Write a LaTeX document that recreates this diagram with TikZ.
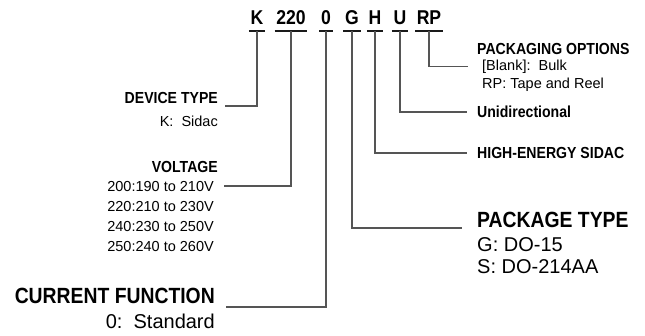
\documentclass[tikz,border=0pt]{standalone}
\usepackage{fontspec}
\setmainfont{Liberation Sans}[BoldFeatures={FakeStretch=0.88}]
\usetikzlibrary{positioning,calc}
\definecolor{ink}{HTML}{1A1A1A}
\definecolor{lead}{HTML}{555555}

\begin{document}
\begin{tikzpicture}[x=1pt, y=-1pt,
  code/.style={font=\fontsize{20}{20}\selectfont\bfseries, inner xsep=1.5pt, inner ysep=0pt, anchor=base},
  head/.style={font=\fontsize{16}{16}\selectfont\bfseries, inner sep=0pt},
  bighead/.style={font=\fontsize{22}{22}\selectfont\bfseries, inner sep=0pt},
  txt/.style={font=\fontsize{14.5}{14.5}\selectfont, inner sep=0pt},
  bigtxt/.style={font=\fontsize{20}{20}\selectfont, inner sep=0pt},
  uline/.style={draw=ink, line width=1.6pt},
  ld/.style={draw=lead, line width=1.3pt}]
\useasboundingbox (0,0) rectangle (645,335);
% part number
\node[code] (k) at (257,24) {K};
\node[code] (v) at (291,24) {220};
\node[code] (c) at (326,24) {0};
\node[code] (g) at (352,24) {G};
\node[code] (h) at (375,24) {H};
\node[code] (u) at (400,24) {U};
\node[code] (rp) at (429,24) {RP};
\foreach \n in {k,v,c,g,h,u,rp}
  \draw[uline] ($(\n.base west)+(0,7)$) -- ($(\n.base east)+(0,7)$);
% left side
\node[head, anchor=base east] (devt) at (218,103) {DEVICE TYPE};
\node[txt, anchor=base east] (devk) at (218,126) {K:\ \ Sidac};
\node[head, anchor=base east] (volt) at (218,172) {VOLTAGE};
\node[txt, anchor=base east] (v1) at (214,191) {200:190 to 210V};
\node[txt, below=9.5pt of v1.south east, anchor=north east] (v2) {220:210 to 230V};
\node[txt, below=9.5pt of v2.south east, anchor=north east] (v3) {240:230 to 250V};
\node[txt, below=9.5pt of v3.south east, anchor=north east] (v4) {250:240 to 260V};
\node[bighead, anchor=base east] (curf) at (215,303) {CURRENT FUNCTION};
\node[bigtxt, anchor=base east] (curs) at (215,328) {0:\ \ Standard};
% right side
\node[head, anchor=base west] (pkgo) at (477,54) {PACKAGING OPTIONS};
\node[txt, anchor=base west] (blank) at (482,70) {[Blank]:\ \ Bulk};
\node[txt, anchor=base west] (reel) at (482,88) {RP: Tape and Reel};
\node[head, anchor=west] (uni) at (477,112) {Unidirectional};
\node[head, anchor=west] (hes) at (477,153) {HIGH-ENERGY SIDAC};
\node[bighead, anchor=base west] (pkgt) at (477,227) {PACKAGE TYPE};
\node[bigtxt, anchor=base west] (pg) at (477,251) {G: DO-15};
\node[bigtxt, anchor=base west] (ps) at (477,273) {S: DO-214AA};
% leaders
\draw[ld] ($(k.base)+(0,7)$) |- ($(devt.base east)+(7,3)$);
\draw[ld] ($(v.base)+(0,7)$) |- ($(v1.east)+(10,0)$);
\draw[ld] ($(c.base)+(0,7)$) |- ($(curf.base east)+(11,4)$);
\draw[ld] ($(g.base)+(0,7)$) |- ($(pkgt.base west)+(-15,1)$);
\draw[ld] ($(h.base)+(0,7)$) |- ($(hes.west)+(-10,0)$);
\draw[ld] ($(u.base)+(0,7)$) |- ($(uni.west)+(-10,0)$);
\draw[ld] ($(rp.base)+(0,7)$) |- ($(blank.west)+(-14,0)$);
\end{tikzpicture}
\end{document}
